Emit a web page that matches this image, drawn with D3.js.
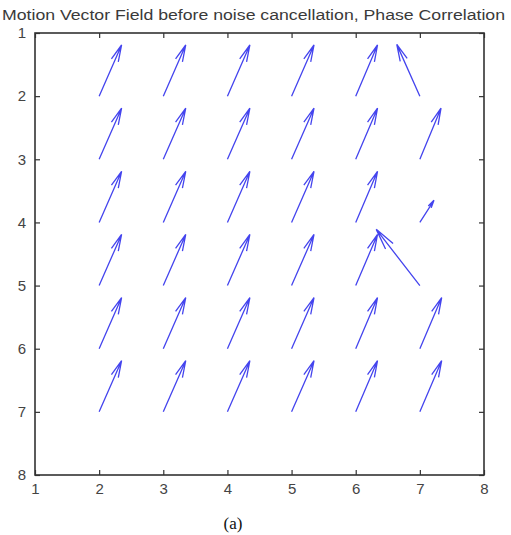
<!DOCTYPE html>
<html lang="en">
<head>
	<meta charset="utf-8">
	<title>Motion Vector Field</title>
	<script src='https://d3js.org/d3.v7.min.js'></script>
	<style>
		body { margin: 0; background: #fff; }
	</style>
</head>
<body>
	<div id="chart"></div>
	<script>
		// grid positions of the blocks
		var xPositions = [2, 3, 4, 5, 6, 7];
		var yPositions = [2, 3, 4, 5, 6, 7];
		// horizontal component, one row per y position
		var uValues = [
			[0.35, 0.35, 0.35, 0.35, 0.34, -0.36],
			[0.35, 0.35, 0.35, 0.35, 0.34, 0.33],
			[0.35, 0.35, 0.35, 0.35, 0.34, 0.22],
			[0.35, 0.35, 0.35, 0.35, 0.34, -0.68],
			[0.35, 0.35, 0.35, 0.35, 0.34, 0.34],
			[0.35, 0.35, 0.35, 0.35, 0.34, 0.34]
		];
		// vertical component (axis runs top to bottom)
		var vValues = [
			[-0.81, -0.81, -0.81, -0.81, -0.81, -0.82],
			[-0.81, -0.81, -0.81, -0.81, -0.81, -0.81],
			[-0.81, -0.81, -0.81, -0.81, -0.81, -0.35],
			[-0.81, -0.81, -0.81, -0.81, -0.81, -0.89],
			[-0.81, -0.81, -0.81, -0.81, -0.81, -0.81],
			[-0.81, -0.81, -0.81, -0.81, -0.81, -0.81]
		];
		var tickValues = [1, 2, 3, 4, 5, 6, 7, 8];
		var titleText = "Motion Vector Field before noise cancellation, Phase Correlation";
		var captionText = "(a)";

		var width = 511;
		var height = 535;
		var plotLeft = 35, plotRight = 484, plotTop = 33, plotBottom = 475;
		var axisColor = "#333";
		var arrowColor = "#4444ee";

		var svg = d3.select("#chart").append("svg")
					.attr("width", width)
					.attr("height", height);

		var x = d3.scaleLinear().domain([1, 8]).range([plotLeft, plotRight]);
		var y = d3.scaleLinear().domain([1, 8]).range([plotTop, plotBottom]);

		// title
		svg.append("text")
			.attr("x", 2)
			.attr("y", 20)
			.attr("textLength", 503)
			.attr("lengthAdjust", "spacingAndGlyphs")
			.style("font-family", "Arial, 'Liberation Sans', sans-serif")
			.style("font-size", "14px")
			.style("fill", "#3a3a3a")
			.text(titleText);

		// axes, ticks pointing inwards on all four sides
		function styleAxis(g) {
			g.select(".domain").remove();
			g.selectAll("line").attr("stroke", axisColor).attr("stroke-width", 1.2);
			g.selectAll("text")
				.style("font-family", "Arial, 'Liberation Sans', sans-serif")
				.style("font-size", "15px")
				.style("fill", "#444");
		}
		svg.append("g")
			.attr("transform", "translate(0," + plotBottom + ")")
			.call(d3.axisBottom(x).tickValues(tickValues).tickFormat(d3.format("d")).tickSizeInner(-5).tickSizeOuter(0).tickPadding(8))
			.call(styleAxis);
		svg.append("g")
			.attr("transform", "translate(0," + plotTop + ")")
			.call(d3.axisTop(x).tickValues(tickValues).tickFormat("").tickSizeInner(-5).tickSizeOuter(0))
			.call(styleAxis);
		svg.append("g")
			.attr("transform", "translate(" + plotLeft + ",0)")
			.call(d3.axisLeft(y).tickValues(tickValues).tickFormat(d3.format("d")).tickSizeInner(-5).tickSizeOuter(0).tickPadding(9))
			.call(styleAxis);
		svg.append("g")
			.attr("transform", "translate(" + plotRight + ",0)")
			.call(d3.axisRight(y).tickValues(tickValues).tickFormat("").tickSizeInner(-5).tickSizeOuter(0))
			.call(styleAxis);

		svg.append("rect")
			.attr("x", plotLeft)
			.attr("y", plotTop)
			.attr("width", plotRight - plotLeft)
			.attr("height", plotBottom - plotTop)
			.attr("fill", "none")
			.attr("stroke", axisColor)
			.attr("stroke-width", 1.6);

		// build the vectors
		var vectors = [];
		yPositions.forEach(function(yy, i) {
			xPositions.forEach(function(xx, j) {
				vectors.push({x: xx, y: yy, u: uValues[i][j], v: vValues[i][j]});
			});
		});

		// quiver style arrow head, in data units
		var alpha = 0.3, beta = 0.22;
		function arrowPath(d) {
			var tx = d.x + d.u, ty = d.y + d.v;
			var h1x = tx - alpha * (d.u + beta * d.v), h1y = ty - alpha * (d.v - beta * d.u);
			var h2x = tx - alpha * (d.u - beta * d.v), h2y = ty - alpha * (d.v + beta * d.u);
			return "M" + x(d.x) + "," + y(d.y) + "L" + x(tx) + "," + y(ty) +
				"M" + x(h1x) + "," + y(h1y) + "L" + x(tx) + "," + y(ty) + "L" + x(h2x) + "," + y(h2y);
		}

		svg.append("g").selectAll("path.arrow")
			.data(vectors)
			.enter()
			.append("path")
			.attr("class", "arrow")
			.attr("d", arrowPath)
			.attr("fill", "none")
			.attr("stroke", arrowColor)
			.attr("stroke-width", 1.3)
			.attr("stroke-linejoin", "miter");

		// caption
		svg.append("text")
			.attr("x", 233)
			.attr("y", 529)
			.attr("text-anchor", "middle")
			.style("font-family", "'Liberation Serif', 'Times New Roman', serif")
			.style("font-size", "17px")
			.style("fill", "#111")
			.text(captionText);
	</script>
</body>
</html>
